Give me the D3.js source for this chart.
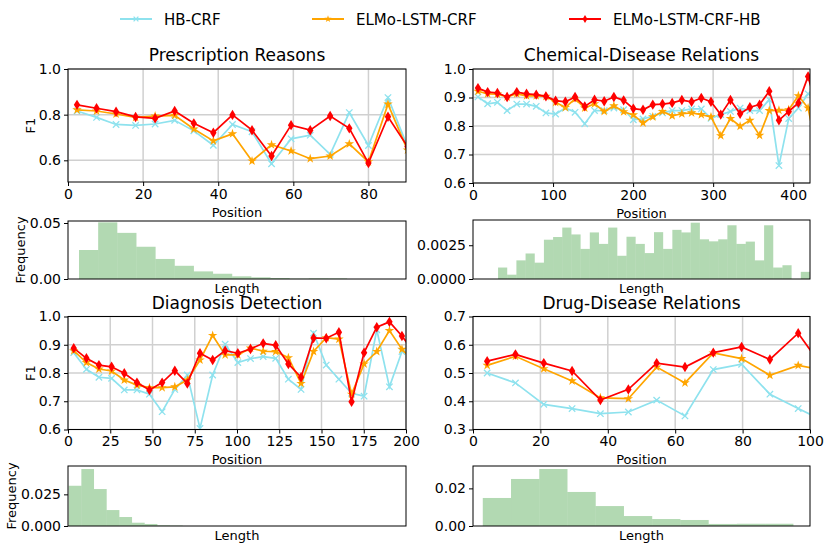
<!DOCTYPE html>
<html>
<head>
<meta charset="utf-8">
<script src="https://cdn.jsdelivr.net/npm/d3@7"></script>
<style>
    body { margin: 0; background: #fff; }
    text { font-family: "DejaVu Sans", sans-serif; }
</style>
</head>
<body>
<div class="viz"></div>
<script>
//////////////////////////
// Data
//////////////////////////

const SERIES = ['HB-CRF', 'ELMo-LSTM-CRF', 'ELMo-LSTM-CRF-HB'];

// Prescription Reasons
const presPos = [2.4, 7.6, 12.8, 18.0, 23.2, 28.4, 33.5, 38.7, 43.8, 49.0, 54.2, 59.4, 64.5, 69.8, 74.9, 80.0, 85.2, 90.4];
const presHB = [0.816, 0.788, 0.757, 0.753, 0.759, 0.775, 0.729, 0.666, 0.757, 0.725, 0.585, 0.694, 0.710, 0.626, 0.809, 0.665, 0.875, 0.66];
const presELMo = [0.821, 0.816, 0.803, 0.788, 0.794, 0.797, 0.737, 0.685, 0.716, 0.597, 0.668, 0.641, 0.607, 0.619, 0.672, 0.593, 0.846, 0.645];
const presELMoHB = [0.843, 0.828, 0.813, 0.790, 0.784, 0.816, 0.762, 0.721, 0.799, 0.732, 0.619, 0.754, 0.732, 0.794, 0.740, 0.588, 0.791, 0.66];
const presFreq = [0.0259, 0.0506, 0.0412, 0.0288, 0.0179, 0.0118, 0.0068, 0.0047, 0.0024, 0.0015, 0.0009, 0.0003, 0.0006, 0.0005];

// Chemical-Disease Relations
const chemPos = [6.2, 18.3, 30.5, 42.6, 54.7, 66.9, 79.0, 91.1, 103.2, 115.4, 127.5, 139.6, 151.8, 163.9, 176.0, 188.2, 200.3, 212.4,
    224.6, 236.7, 248.8, 260.9, 273.1, 285.2, 297.3, 309.5, 321.6, 333.7, 345.9, 358.0, 370.1, 382.2, 394.4, 406.5, 418.6, 430.7];
const chemHB = [0.902, 0.878, 0.883, 0.854, 0.877, 0.877, 0.869, 0.846, 0.842, 0.863, 0.848, 0.808, 0.854, 0.854, 0.863, 0.857, 0.822, 0.825,
    0.834, 0.846, 0.854, 0.854, 0.860, 0.860, 0.827, 0.840, 0.851, 0.863, 0.854, 0.854, 0.892, 0.661, 0.826, 0.863, 0.913, 0.90];
const chemELMo = [0.922, 0.913, 0.912, 0.902, 0.913, 0.906, 0.906, 0.904, 0.883, 0.865, 0.895, 0.863, 0.878, 0.851, 0.871, 0.850, 0.839, 0.811,
    0.832, 0.851, 0.836, 0.843, 0.846, 0.840, 0.832, 0.766, 0.826, 0.799, 0.820, 0.767, 0.854, 0.855, 0.857, 0.906, 0.863, 0.70];
const chemELMoHB = [0.933, 0.919, 0.916, 0.902, 0.919, 0.913, 0.910, 0.904, 0.889, 0.885, 0.902, 0.869, 0.892, 0.887, 0.902, 0.890, 0.861, 0.857,
    0.875, 0.877, 0.881, 0.891, 0.885, 0.898, 0.885, 0.840, 0.891, 0.843, 0.866, 0.875, 0.922, 0.820, 0.851, 0.881, 0.974, 0.85];
const chemFreq = [0.00085, 0.00032, 0.00138, 0.00189, 0.00121, 0.00291, 0.00311, 0.00381, 0.0033, 0.00223, 0.00345, 0.0026, 0.00381, 0.00172,
    0.00313, 0.0026, 0.00192, 0.00347, 0.00223, 0.00364, 0.00345, 0.00417, 0.00294, 0.00279, 0.00294, 0.00398, 0.0026, 0.00277, 0.00138,
    0.00398, 0.00085, 0.00102, 0, 0.00053];

// Diagnosis Detection
const diagPos = [3.4, 10.9, 18.3, 25.8, 33.3, 40.8, 48.2, 55.7, 63.2, 70.6, 78.1, 85.6, 93.0, 100.5, 108.0, 115.5, 122.9, 130.4,
    137.9, 145.3, 152.8, 160.3, 167.8, 175.2, 182.7, 190.2, 197.6, 205.1];
const diagHB = [0.872, 0.813, 0.785, 0.781, 0.740, 0.740, 0.725, 0.663, 0.742, 0.793, 0.604, 0.793, 0.902, 0.837, 0.851, 0.858, 0.852, 0.778,
    0.742, 0.941, 0.828, 0.778, 0.728, 0.718, 0.953, 0.751, 0.876, 0.88];
const diagELMo = [0.879, 0.837, 0.814, 0.807, 0.775, 0.757, 0.748, 0.748, 0.751, 0.775, 0.846, 0.933, 0.864, 0.864, 0.888, 0.877, 0.876, 0.854,
    0.763, 0.876, 0.925, 0.920, 0.725, 0.832, 0.876, 0.950, 0.884, 0.84];
const diagELMoHB = [0.888, 0.852, 0.828, 0.822, 0.799, 0.766, 0.740, 0.766, 0.808, 0.763, 0.870, 0.846, 0.879, 0.870, 0.885, 0.905, 0.898, 0.832,
    0.785, 0.924, 0.923, 0.944, 0.698, 0.872, 0.962, 0.981, 0.931, 0.87];
const diagFreq = [0.0318, 0.045, 0.0292, 0.0126, 0.0071, 0.0026, 0.0016, 0.0005, 0.0003];

// Drug-Disease Relations
const drugPos = [4.2, 12.6, 21.0, 29.4, 37.8, 46.1, 54.5, 62.9, 71.3, 79.7, 88.1, 96.5, 104.9];
const drugHB = [0.500, 0.465, 0.389, 0.374, 0.356, 0.362, 0.404, 0.348, 0.512, 0.531, 0.425, 0.374, 0.326];
const drugELMo = [0.527, 0.559, 0.515, 0.472, 0.412, 0.409, 0.521, 0.465, 0.571, 0.551, 0.492, 0.527, 0.508];
const drugELMoHB = [0.542, 0.566, 0.535, 0.507, 0.404, 0.442, 0.535, 0.521, 0.572, 0.592, 0.548, 0.641, 0.50];
const drugFreq = [0.0149, 0.025, 0.0303, 0.0181, 0.0106, 0.0053, 0.0037, 0.0032, 0.0011, 0.0012, 0.0012];

// tick labels
const presXTicks = [0, 20, 40, 60, 80];
const presYTicks = [0.6, 0.8, 1.0];
const chemXTicks = [0, 100, 200, 300, 400];
const chemYTicks = [0.6, 0.7, 0.8, 0.9, 1.0];
const diagXTicks = [0, 25, 50, 75, 100, 125, 150, 175, 200];
const diagYTicks = [0.6, 0.7, 0.8, 0.9, 1.0];
const drugXTicks = [0, 20, 40, 60, 80, 100];
const drugYTicks = [0.3, 0.4, 0.5, 0.6, 0.7];

//////////////////////////
// Panel setup
//////////////////////////

const COLORS = ['#8ee2ee', '#ffa500', '#ff0000'];
const GRID = '#d0d0d0';

var panels = [
    {
        title: 'Prescription Reasons', ylabel: true, left: 68, right: 406, top: 69, bottom: 182,
        xDomain: [0, 90], yDomain: [0.505, 1.0], xTicks: presXTicks, yTicks: presYTicks,
        pos: presPos, series: [presHB, presELMo, presELMoHB],
        hist: { top: 221, bottom: 279, yMax: 0.0518, ticks: [0, 0.05], fmt: '.2f', start: 2.93, width: 5.10, freq: presFreq },
    },
    {
        title: 'Chemical-Disease Relations', ylabel: false, left: 473, right: 810, top: 69, bottom: 183,
        xDomain: [0, 421], yDomain: [0.6, 1.0], xTicks: chemXTicks, yTicks: chemYTicks,
        pos: chemPos, series: [chemHB, chemELMo, chemELMoHB],
        hist: { top: 220, bottom: 279, yMax: 0.00437, ticks: [0, 0.0025], fmt: '.4f', start: 31.3, width: 11.46, freq: chemFreq },
    },
    {
        title: 'Diagnosis Detection', ylabel: true, left: 68, right: 406, top: 316.5, bottom: 429.5,
        xDomain: [0, 200], yDomain: [0.6, 1.0], xTicks: diagXTicks, yTicks: diagYTicks,
        pos: diagPos, series: [diagHB, diagELMo, diagELMoHB],
        hist: { top: 466, bottom: 526, yMax: 0.0474, ticks: [0, 0.025], fmt: '.3f', start: 0.4, width: 7.5, freq: diagFreq },
    },
    {
        title: 'Drug-Disease Relations', ylabel: false, left: 473, right: 810, top: 316.5, bottom: 429.5,
        xDomain: [0, 100], yDomain: [0.3, 0.7], xTicks: drugXTicks, yTicks: drugYTicks,
        pos: drugPos, series: [drugHB, drugELMo, drugELMoHB],
        hist: { top: 466, bottom: 526, yMax: 0.0319, ticks: [0, 0.02], fmt: '.2f', start: 2.9, width: 8.38, freq: drugFreq },
    },
];

var svg = d3.select('div.viz')
    .append('svg')
    .attr('width', 830)
    .attr('height', 550);

// marker shapes: x, star, thin diamond (s scales them down for the legend)
function drawMarker(sel, k, s) {
    s = s || 1;
    if (k === 0) {
        var a = 3.2 * s;
        sel.append('path')
            .attr('d', 'M' + -a + ',' + -a + 'L' + a + ',' + a + 'M' + -a + ',' + a + 'L' + a + ',' + -a)
            .attr('stroke', COLORS[0])
            .attr('stroke-width', 1.3)
            .attr('fill', 'none');
    } else if (k === 1) {
        sel.append('path')
            .attr('d', d3.symbol(d3.symbolStar, 28 * s * s)())
            .attr('fill', COLORS[1]);
    } else {
        var w = 3.2 * s, hh = 5.2 * s;
        sel.append('path')
            .attr('d', 'M0,' + -hh + 'L' + w + ',0L0,' + hh + 'L' + -w + ',0Z')
            .attr('fill', COLORS[2]);
    }
}

function styleAxis(g) {
    g.selectAll('text')
        .attr('font-size', '14px')
        .attr('font-family', '"DejaVu Sans", sans-serif')
        .attr('fill', '#000');
    g.selectAll('line').attr('stroke', '#000');
    g.select('.domain').remove();
}

panels.forEach(function(p, i) {
    var g = svg.append('g').attr('class', 'panel-' + i);

    var xScale = d3.scaleLinear().domain(p.xDomain).range([p.left, p.right]);
    var yScale = d3.scaleLinear().domain(p.yDomain).range([p.bottom, p.top]);

    // grid
    g.append('g')
        .selectAll('line.vx')
        .data(p.xTicks)
        .enter()
        .append('line')
        .attr('x1', (d) => xScale(d))
        .attr('x2', (d) => xScale(d))
        .attr('y1', p.top)
        .attr('y2', p.bottom)
        .attr('stroke', GRID)
        .attr('stroke-width', 1.5);
    g.append('g')
        .selectAll('line.hy')
        .data(p.yTicks)
        .enter()
        .append('line')
        .attr('x1', p.left)
        .attr('x2', p.right)
        .attr('y1', (d) => yScale(d))
        .attr('y2', (d) => yScale(d))
        .attr('stroke', GRID)
        .attr('stroke-width', 1.5);

    // clip
    svg.append('clipPath')
        .attr('id', 'clip-' + i)
        .append('rect')
        .attr('x', p.left)
        .attr('y', p.top)
        .attr('width', p.right - p.left)
        .attr('height', p.bottom - p.top);

    var plot = g.append('g').attr('clip-path', 'url(#clip-' + i + ')');

    var line = d3.line()
        .x((d) => xScale(d[0]))
        .y((d) => yScale(d[1]));

    p.series.forEach(function(values, k) {
        var pts = values.map((v, j) => [p.pos[j], v]);
        plot.append('path')
            .attr('d', line(pts))
            .attr('fill', 'none')
            .attr('stroke', COLORS[k])
            .attr('stroke-width', 1.7);
        plot.append('g')
            .selectAll('g')
            .data(pts)
            .enter()
            .append('g')
            .attr('transform', (d) => 'translate(' + xScale(d[0]) + ',' + yScale(d[1]) + ')')
            .each(function() { drawMarker(d3.select(this), k); });
    });

    // frame
    g.append('rect')
        .attr('x', p.left)
        .attr('y', p.top)
        .attr('width', p.right - p.left)
        .attr('height', p.bottom - p.top)
        .attr('fill', 'none')
        .attr('stroke', '#000')
        .attr('stroke-width', 1);

    // axes
    g.append('g')
        .attr('transform', 'translate(0,' + p.bottom + ')')
        .call(d3.axisBottom(xScale).tickValues(p.xTicks).tickSize(4).tickPadding(3).tickFormat(d3.format('d')))
        .call(styleAxis);
    g.append('g')
        .attr('transform', 'translate(' + p.left + ',0)')
        .call(d3.axisLeft(yScale).tickValues(p.yTicks).tickSize(4).tickPadding(3).tickFormat(d3.format('.1f')))
        .call(styleAxis);

    // title and labels
    g.append('text')
        .attr('x', (p.left + p.right) / 2)
        .attr('y', p.top - 8)
        .attr('text-anchor', 'middle')
        .attr('font-size', '17px')
        .text(p.title);
    g.append('text')
        .attr('x', (p.left + p.right) / 2)
        .attr('y', p.bottom + 34.5)
        .attr('text-anchor', 'middle')
        .attr('font-size', '13px')
        .text('Position');
    if (p.ylabel) {
        g.append('text')
            .attr('transform', 'translate(35,' + ((p.top + p.bottom) / 2) + ') rotate(-90)')
            .attr('text-anchor', 'middle')
            .attr('font-size', '13px')
            .text('F1');
    }

    // histogram
    var h = p.hist;
    var hy = d3.scaleLinear().domain([0, h.yMax]).range([h.bottom, h.top]);
    var bins = h.freq.map((f, j) => ({ x0: h.start + j * h.width, x1: h.start + (j + 1) * h.width, f: f }));

    var hg = g.append('g').attr('class', 'hist');
    hg.selectAll('rect.bar')
        .data(bins)
        .enter()
        .append('rect')
        .attr('class', 'bar')
        .attr('x', (d) => xScale(d.x0))
        .attr('width', (d) => Math.max(0, xScale(Math.min(d.x1, p.xDomain[1])) - xScale(d.x0)))
        .attr('y', (d) => hy(d.f))
        .attr('height', (d) => h.bottom - hy(d.f))
        .attr('fill', '#008000')
        .attr('fill-opacity', 0.3);

    hg.append('rect')
        .attr('x', p.left)
        .attr('y', h.top)
        .attr('width', p.right - p.left)
        .attr('height', h.bottom - h.top)
        .attr('fill', 'none')
        .attr('stroke', '#000')
        .attr('stroke-width', 1);

    hg.append('g')
        .attr('transform', 'translate(' + p.left + ',0)')
        .call(d3.axisLeft(hy).tickValues(h.ticks).tickSize(4).tickPadding(3).tickFormat(d3.format(h.fmt)))
        .call(styleAxis);

    hg.append('text')
        .attr('x', (p.left + p.right) / 2)
        .attr('y', h.bottom + 13.5)
        .attr('text-anchor', 'middle')
        .attr('font-size', '13px')
        .text('Length');
    if (p.ylabel) {
        var bx = i === 0 ? 25 : 16;
        hg.append('text')
            .attr('transform', 'translate(' + bx + ',' + ((h.top + h.bottom) / 2) + ') rotate(-90)')
            .attr('text-anchor', 'middle')
            .attr('font-size', '13px')
            .text('Frequency');
    }
});

//////////////////////////
// Legend
//////////////////////////

var legendX = [120, 312, 569];
var legend = svg.append('g').attr('class', 'legend');
SERIES.forEach(function(name, k) {
    var lg = legend.append('g').attr('transform', 'translate(' + legendX[k] + ',19)');
    lg.append('line')
        .attr('x1', 0)
        .attr('x2', 32)
        .attr('stroke', COLORS[k])
        .attr('stroke-width', 2);
    drawMarker(lg.append('g').attr('transform', 'translate(16,0)'), k, 0.75);
    lg.append('text')
        .attr('x', 44)
        .attr('y', 5.5)
        .attr('font-size', '15px')
        .text(name);
});
</script>
</body>
</html>
